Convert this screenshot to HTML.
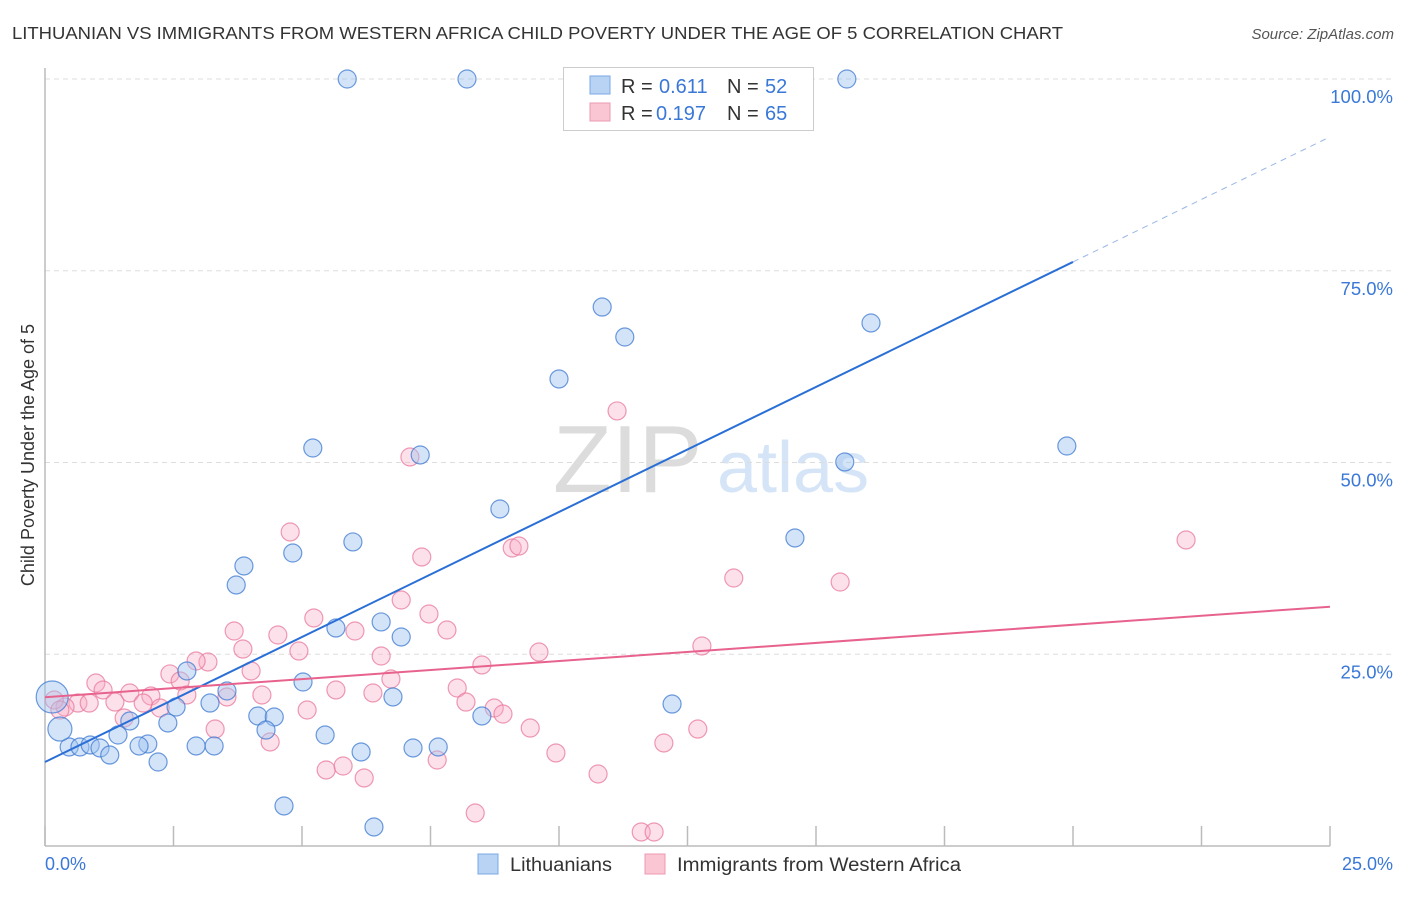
<!DOCTYPE html>
<html><head><meta charset="utf-8"><style>
body{margin:0;background:#fff;font-family:"Liberation Sans",sans-serif;}
svg text{font-family:"Liberation Sans",sans-serif;}
</style></head><body>
<svg id="chart" width="1406" height="892" xmlns="http://www.w3.org/2000/svg">
<text x="12" y="39" font-size="17.5" fill="#333" textLength="1051" lengthAdjust="spacingAndGlyphs">LITHUANIAN VS IMMIGRANTS FROM WESTERN AFRICA CHILD POVERTY UNDER THE AGE OF 5 CORRELATION CHART</text>
<text x="1394" y="39" font-size="15" fill="#555" font-style="italic" text-anchor="end">Source: ZipAtlas.com</text>
<g>
<text x="553" y="492" font-size="96" font-family="Liberation Serif" fill="#dcdcdc">ZIP</text>
<text x="717" y="492" font-size="72" fill="#d5e5f7">atlas</text>
</g>
<g id="grid"></g>
<g id="axes"></g>
<g id="marks"></g>
<g id="lines"></g>
<text transform="translate(34,455) rotate(-90)" font-size="18" fill="#333" text-anchor="middle">Child Poverty Under the Age of 5</text>
<text x="45" y="870" font-size="18" fill="#3a78d8">0.0%</text>
<text x="1393" y="870" font-size="18" fill="#3a78d8" text-anchor="end">25.0%</text>
<g>
<rect x="563.5" y="67.5" width="250" height="63" fill="#fff" stroke="#ccc"/>
<rect x="590" y="76" width="20" height="18" fill="#b8d3f4" stroke="#7aa7e4"/>
<rect x="590" y="103" width="20" height="18" fill="#fbc6d4" stroke="#ee9ab2"/>
<g font-size="20">
<text x="621" y="93" fill="#333">R =</text><text x="659" y="93" fill="#3a78d8">0.611</text>
<text x="727" y="93" fill="#333">N =</text><text x="765" y="93" fill="#3a78d8">52</text>
</g>
<g font-size="20">
<text x="621" y="120" fill="#333">R =</text><text x="656" y="120" fill="#3a78d8">0.197</text>
<text x="727" y="120" fill="#333">N =</text><text x="765" y="120" fill="#3a78d8">65</text>
</g>
</g>
<g>
<rect x="478" y="854" width="20" height="20" fill="#b8d3f4" stroke="#7aa7e4"/>
<text x="510" y="871" font-size="19" fill="#333" textLength="102" lengthAdjust="spacingAndGlyphs">Lithuanians</text>
<rect x="645" y="854" width="20" height="20" fill="#fbc6d4" stroke="#ee9ab2"/>
<text x="677" y="871" font-size="19" fill="#333" textLength="284" lengthAdjust="spacingAndGlyphs">Immigrants from Western Africa</text>
</g>
</svg>
<script>
const yTicks=[25,50,75,100];
const yTickLabels=["25.0%","50.0%","75.0%","100.0%"];
const xTicks=[0,2.5,5,7.5,10,12.5,15,17.5,20,22.5,25];
const blueX=[5.88,8.21,15.60,10.84,11.28,16.07,10.00,5.21,7.30,15.56,19.88,8.85,14.59,5.99,4.82,3.87,3.72,5.66,6.54,6.93,2.76,5.02,3.54,6.77,3.21,2.55,12.20,4.14,4.46,8.50,2.39,1.65,4.30,1.42,5.45,2.00,0.47,0.68,0.88,1.07,1.26,1.83,2.94,3.29,7.16,7.65,6.15,2.20,4.65,6.40,0.14,0.29];
const blueY=[100,100,100,70.27,66.36,68.19,60.89,51.89,50.98,50.07,52.15,43.94,40.16,39.64,38.20,36.51,34.03,28.42,29.21,27.25,22.82,21.38,20.21,19.43,18.64,18.12,18.51,16.95,16.82,16.95,16.04,16.30,15.12,14.47,14.47,13.30,12.91,12.91,13.17,12.78,11.86,13.04,13.04,13.04,12.78,12.91,12.26,10.95,5.22,2.48,19.43,15.25];
const blueSize=[9,9,9,9,9,9,9,9,9,9,9,9,9,9,9,9,9,9,9,9,9,9,9,9,9,9,9,9,9,9,9,9,9,9,9,9,9,9,9,9,9,9,9,9,9,9,9,9,9,9,16,12];
const pinkX=[11.13,7.10,22.20,4.77,9.09,9.22,7.33,13.40,15.47,6.93,5.23,7.47,3.68,4.53,6.03,7.82,3.85,4.94,9.61,12.78,6.54,3.17,2.94,8.50,4.01,2.43,0.99,2.63,1.13,6.73,1.65,2.06,5.66,6.38,8.02,4.22,2.76,3.54,0.64,0.86,1.36,1.91,0.39,2.24,8.19,5.10,8.74,8.91,1.54,0.18,4.38,3.31,9.44,12.70,12.04,9.94,7.63,5.47,5.80,6.21,10.76,8.37,11.60,11.85,0.29];
const pinkY=[56.72,50.72,39.90,40.94,38.85,39.11,37.68,34.94,34.42,32.07,29.73,30.25,28.03,27.51,28.03,28.16,25.68,25.42,25.29,26.08,24.77,23.99,24.12,23.60,22.82,22.43,21.25,21.51,20.34,21.77,19.95,19.56,20.34,19.95,20.60,19.69,19.69,19.43,18.64,18.64,18.77,18.64,18.12,17.99,18.77,17.73,17.99,17.21,16.69,19.04,13.56,15.25,15.38,15.25,13.43,12.13,11.21,9.91,10.43,8.87,9.39,4.30,1.83,1.83,17.73];
const blueTrend=[10.95,3.26];
const pinkTrend=[19.4,0.472];
const NS="http://www.w3.org/2000/svg";
const X0=45,X1=1330,Y0=846,Y100=79;
const sx=v=>X0+(X1-X0)*v/25;
const sy=v=>Y0-(Y0-Y100)*v/100;
function mk(tag,attrs,parent){const e=document.createElementNS(NS,tag);for(const k in attrs)e.setAttribute(k,attrs[k]);parent.appendChild(e);return e;}
const grid=document.getElementById('grid'),axes=document.getElementById('axes'),marks=document.getElementById('marks'),lines=document.getElementById('lines');
yTicks.forEach((t,i)=>{
 const l=mk('line',{x1:X0,x2:1393,y1:sy(t),y2:sy(t),stroke:'#ddd','stroke-dasharray':'5,4'},grid);
 
 
 const tx=mk('text',{x:1393,y:sy(t)+24,'font-size':18.5,fill:'#3a78d8','text-anchor':'end'},grid);
 tx.textContent=yTickLabels[i];
 
 
});
const ya=mk('line',{x1:X0,x2:X0,y1:68,y2:Y0,stroke:'#bbb','stroke-width':1.5},axes);


const xa=mk('line',{x1:X0,x2:X1,y1:Y0,y2:Y0,stroke:'#bbb','stroke-width':1.5},axes);


xTicks.forEach(t=>{
 const l=mk('line',{x1:sx(t),x2:sx(t),y1:Y0-20,y2:Y0,stroke:'#bbb','stroke-width':1.5},axes);
 
 
});
function pts(xs,ys,sz,fill,stroke,name){
 xs.forEach((x,i)=>{
  const c=mk('circle',{cx:sx(x),cy:sy(ys[i]),r:sz?sz[i]:9,fill:fill,stroke:stroke,'stroke-width':1.2},marks);
  
  
 });
}
pts(pinkX,pinkY,null,'rgba(248,170,195,0.35)','rgba(232,120,155,0.75)','immigrants-point');
pts(blueX,blueY,blueSize,'rgba(160,196,240,0.45)','rgba(60,120,210,0.75)','lithuanians-point');
const bl=mk('line',{x1:sx(0),y1:sy(blueTrend[0]),x2:sx(20),y2:sy(blueTrend[0]+blueTrend[1]*20),stroke:'#2a6fd6','stroke-width':2},lines);


const bd=mk('line',{x1:sx(20),y1:sy(blueTrend[0]+blueTrend[1]*20),x2:sx(25),y2:sy(blueTrend[0]+blueTrend[1]*25),stroke:'#9bb8e4','stroke-width':1,'stroke-dasharray':'6,5'},lines);


const pl=mk('line',{x1:sx(0),y1:sy(pinkTrend[0]),x2:sx(25),y2:sy(pinkTrend[0]+pinkTrend[1]*25),stroke:'#e8628e','stroke-width':2},lines);


</script>
</body></html>
